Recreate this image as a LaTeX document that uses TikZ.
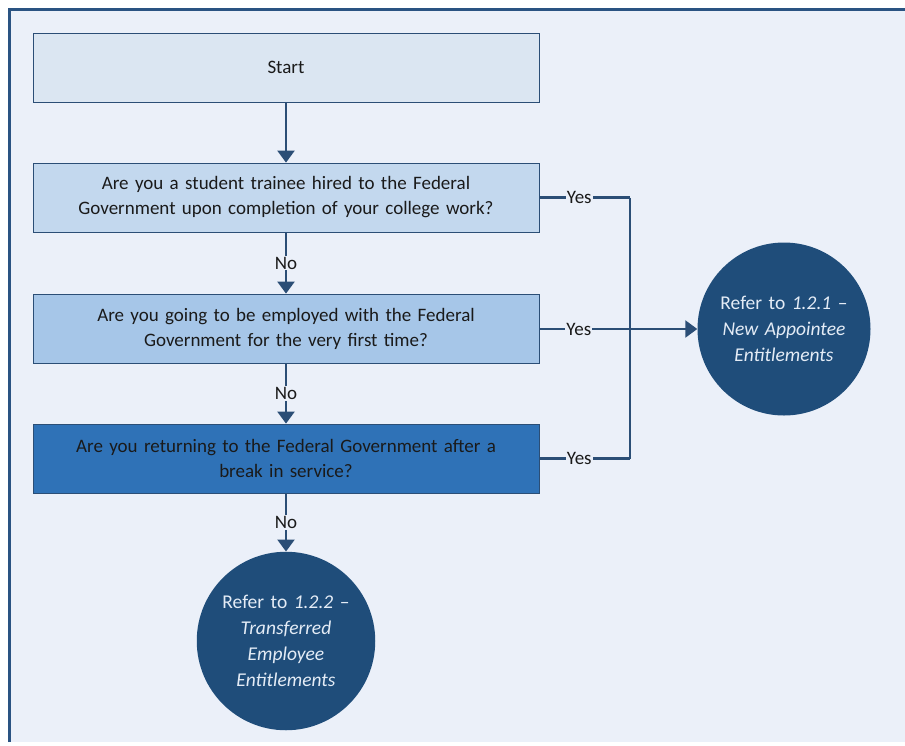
\documentclass[tikz,border=0pt]{standalone}
\usepackage{fontspec}
\setmainfont{Carlito}
\usetikzlibrary{arrows.meta}
\definecolor{bgblue}{HTML}{EBF0F9}
\definecolor{framecol}{HTML}{2A5382}
\definecolor{linecol}{HTML}{2B4E76}
\definecolor{startfill}{HTML}{DBE6F2}
\definecolor{qonefill}{HTML}{C3D8EE}
\definecolor{qtwofill}{HTML}{A6C6E8}
\definecolor{qthreefill}{HTML}{2F72B7}
\definecolor{endfill}{HTML}{1F4D7A}
\definecolor{endtext}{HTML}{E4ECF6}
\definecolor{txtcol}{HTML}{1A1A1A}

\begin{document}
\begin{tikzpicture}[x=1pt, y=-1pt]
	\tikzstyle{every node}=[inner sep=1pt, align=center, font=\fontsize{19}{25}\selectfont, text=txtcol]
	\tikzstyle{qbox}=[draw=linecol, line width=0.8pt, minimum width=506pt, minimum height=69pt, text width=490pt]
	\tikzstyle{endcircle}=[circle, fill=endfill, minimum size=173pt, text width=150pt, text=endtext, font=\fontsize{19.5}{26}\selectfont]
	\tikzstyle{flow}=[draw=linecol, line width=2.3pt]
	\tikzstyle{tip}=[-{Triangle[width=17pt, length=12pt]}]
	\tikzstyle{answer}=[fill=bgblue, inner sep=1pt]
	% page and frame
	\useasboundingbox (0,0) rectangle (905,745);
	\fill[white] (0,0) rectangle (905,745);
	\fill[bgblue] (9,9) rectangle (905,742);
	\draw[framecol, line width=3pt] (9,742) -- (9,9.5) -- (905,9.5);
	% boxes
	\node[qbox, fill=startfill] (S) at (286, 67.5) {Start};
	\node[qbox, fill=qonefill] (Q1) at (286, 197.5) {Are you a student trainee hired to the Federal\\Government upon completion of your college work?};
	\node[qbox, fill=qtwofill] (Q2) at (286, 328.5) {Are you going to be employed with the Federal\\Government for the very first time?};
	\node[qbox, fill=qthreefill] (Q3) at (286, 458.5) {Are you returning to the Federal Government after a\\break in service?};
	% end points
	\node[endcircle] (N) at (784, 329) {Refer to \textit{1.2.1} --\\\textit{New Appointee}\\\textit{Entitlements}};
	\node[endcircle] (T) at (286, 641) {Refer to \textit{1.2.2} --\\\textit{Transferred}\\\textit{Employee}\\\textit{Entitlements}};
	\coordinate (J1) at (630, 197.5);
	\coordinate (J3) at (630, 458.5);
	% connectors
	\draw[flow, tip] (S) -- (Q1);
	\draw[flow, tip] (Q1) -- (Q2) node[answer, midway] {No};
	\draw[flow, tip] (Q2) -- (Q3) node[answer, midway] {No};
	\draw[flow, tip] (Q3) -- (T) node[answer, midway] {No};
	\draw[flow] (Q1.east) -- (J1) node[answer, pos=0.44] {Yes};
	\draw[flow] (Q3.east) -- (J3) node[answer, pos=0.44] {Yes};
	\draw[flow] (J1) -- (J3);
	\draw[flow, tip] (Q2.east |- N) -- (N) node[answer, pos=0.25] {Yes};
\end{tikzpicture}
\end{document}
